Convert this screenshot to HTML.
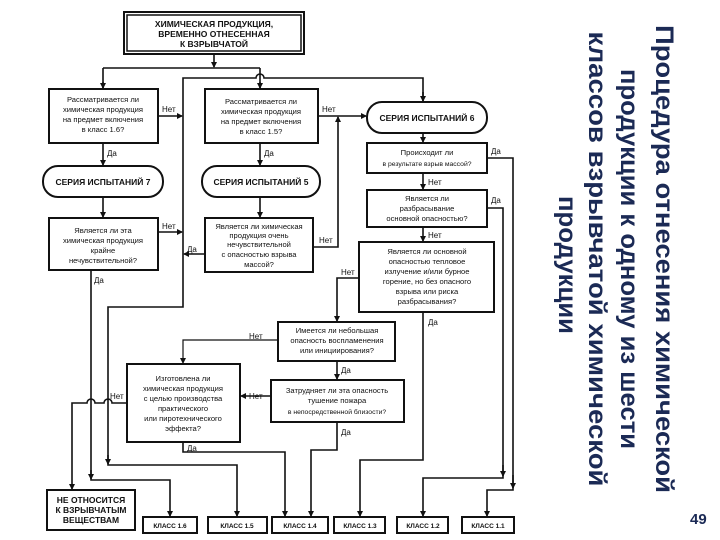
<!DOCTYPE html>
<html><head><meta charset="utf-8"><style>
html,body{margin:0;padding:0;background:#fff}
svg{display:block}
text{font-family:"Liberation Sans",sans-serif;fill:#111}
.t{font-size:7.6px;text-anchor:middle}
.b{font-weight:bold}
.l{font-size:8px}
</style></head><body>
<svg width="720" height="540" viewBox="0 0 720 540" xmlns="http://www.w3.org/2000/svg">
<defs><marker id="a" markerWidth="6" markerHeight="6" refX="5" refY="3" orient="auto" markerUnits="userSpaceOnUse"><path d="M0,0 L6,3 L0,6z" fill="#111"/></marker></defs>
<g fill="none" stroke="#111" stroke-width="2">
<rect x="124" y="12" width="180" height="42" stroke-width="2"/>
<rect x="127" y="15" width="174" height="36" stroke-width="1.5"/>
<rect x="49" y="89" width="109" height="54"/>
<rect x="205" y="89" width="113" height="54"/>
<rect x="43" y="166" width="120" height="31" rx="15"/>
<rect x="202" y="166" width="118" height="31" rx="15"/>
<rect x="49" y="218" width="109" height="52"/>
<rect x="205" y="218" width="108" height="54"/>
<rect x="367" y="102" width="120" height="31" rx="15"/>
<rect x="367" y="143" width="120" height="30"/>
<rect x="367" y="190" width="120" height="37"/>
<rect x="359" y="242" width="135" height="70"/>
<rect x="278" y="322" width="117" height="39"/>
<rect x="271" y="380" width="133" height="42"/>
<rect x="127" y="364" width="113" height="78"/>
<rect x="47" y="490" width="88" height="40"/>
<rect x="143" y="517" width="54" height="16"/>
<rect x="208" y="517" width="59" height="16"/>
<rect x="272" y="517" width="56" height="16"/>
<rect x="334" y="517" width="51" height="16"/>
<rect x="397" y="517" width="51" height="16"/>
<rect x="462" y="517" width="52" height="16"/>
</g>
<g fill="none" stroke="#111" stroke-width="1.6">
<path d="M214 54 V67" marker-end="url(#a)"/>
<path d="M103 68 H260 M103 68 V88 M260 68 V88" />
<path d="M103 82 V88" marker-end="url(#a)"/><path d="M260 82 V88" marker-end="url(#a)"/>
<path d="M183 232 V78 H256 A4 4 0 0 1 264 78 H423 V101" />
<path d="M423 92 V101" marker-end="url(#a)"/>
<path d="M158 116 H182" marker-end="url(#a)"/>
<path d="M158 232 H182" marker-end="url(#a)"/>
<path d="M103 143 V165" marker-end="url(#a)"/>
<path d="M103 197 V217" marker-end="url(#a)"/>
<path d="M260 143 V165" marker-end="url(#a)"/>
<path d="M260 197 V217" marker-end="url(#a)"/>
<path d="M318 116 H366" marker-end="url(#a)"/>
<path d="M313 247 H338 V117" marker-end="url(#a)"/>
<path d="M205 254 H184" marker-end="url(#a)"/>
<path d="M183 232 V307 H108 V465 H237 V516" marker-end="url(#a)"/>
<path d="M91 270 V480 H170 V516" marker-end="url(#a)"/>
<path d="M91 470 V479" marker-end="url(#a)"/>
<path d="M108 455 V464" marker-end="url(#a)"/>
<path d="M423 133 V142" marker-end="url(#a)"/>
<path d="M423 173 V189" marker-end="url(#a)"/>
<path d="M423 227 V241" marker-end="url(#a)"/>
<path d="M487 158 H513 V490 H487 V516" marker-end="url(#a)"/>
<path d="M487 208 H503 V478 H423 V516" marker-end="url(#a)"/>
<path d="M503 465 V476" marker-end="url(#a)"/>
<path d="M513 475 V488" marker-end="url(#a)"/>
<path d="M423 312 V460 H360 V516" marker-end="url(#a)"/>
<path d="M359 278 H337 V321" marker-end="url(#a)"/>
<path d="M278 340 H183 V363" marker-end="url(#a)" stroke-width="1.2"/>
<path d="M337 361 V379" marker-end="url(#a)"/>
<path d="M271 396 H241" marker-end="url(#a)"/>
<path d="M337 422 V450 H311 V516" marker-end="url(#a)"/>
<path d="M183 442 V452 H285 V516" marker-end="url(#a)"/>
<path d="M127 403 H112 A4 4 0 0 0 104 403 H95 A4 4 0 0 0 87 403 H72 V489" marker-end="url(#a)"/>
</g>
<g class="t b" style="font-size:8.5px">
<text x="214" y="27">ХИМИЧЕСКАЯ ПРОДУКЦИЯ,</text>
<text x="214" y="37">ВРЕМЕННО ОТНЕСЕННАЯ</text>
<text x="214" y="47">К ВЗРЫВЧАТОЙ</text>
</g>
<g class="t">
<text x="103" y="102">Рассматривается ли</text><text x="103" y="112">химическая продукция</text><text x="103" y="122">на предмет включения</text><text x="103" y="132">в класс 1.6?</text>
<text x="261" y="104">Рассматривается ли</text><text x="261" y="114">химическая продукция</text><text x="261" y="124">на предмет включения</text><text x="261" y="134">в класс 1.5?</text>
<text x="103" y="233">Является ли эта</text><text x="103" y="243">химическая продукция</text><text x="103" y="253">крайне</text><text x="103" y="263">нечувствительной?</text>
<text x="259" y="229">Является ли химическая</text><text x="259" y="238">продукция очень</text><text x="259" y="247">нечувствительной</text><text x="259" y="257">с опасностью взрыва</text><text x="259" y="267">массой?</text>
<text x="427" y="155">Происходит ли</text><text x="427" y="166" style="font-size:6.8px">в результате взрыв массой?</text>
<text x="427" y="201">Является ли</text><text x="427" y="211">разбрасывание</text><text x="427" y="221">основной опасностью?</text>
<text x="427" y="254">Является ли основной</text><text x="427" y="264">опасностью тепловое</text><text x="427" y="274">излучение и/или бурное</text><text x="427" y="284">горение, но без опасного</text><text x="427" y="294">взрыва или риска</text><text x="427" y="304">разбрасывания?</text>
<text x="337" y="333">Имеется ли небольшая</text><text x="337" y="343">опасность воспламенения</text><text x="337" y="353">или инициирования?</text>
<text x="337" y="393">Затрудняет ли эта опасность</text><text x="337" y="403">тушение пожара</text><text x="337" y="414" style="font-size:6.8px">в непосредственной близости?</text>
<text x="183" y="381">Изготовлена ли</text><text x="183" y="391">химическая продукция</text><text x="183" y="401">с целью производства</text><text x="183" y="411">практического</text><text x="183" y="421">или пиротехнического</text><text x="183" y="431">эффекта?</text>
</g>
<g class="t b" style="font-size:8.5px">
<text x="103" y="185">СЕРИЯ ИСПЫТАНИЙ 7</text>
<text x="261" y="185">СЕРИЯ ИСПЫТАНИЙ 5</text>
<text x="427" y="121">СЕРИЯ ИСПЫТАНИЙ 6</text>
<text x="91" y="503">НЕ ОТНОСИТСЯ</text><text x="91" y="513">К ВЗРЫВЧАТЫМ</text><text x="91" y="523">ВЕЩЕСТВАМ</text>
</g>
<g class="t b" style="font-size:6.5px">
<text x="170" y="528">КЛАСС 1.6</text><text x="237" y="528">КЛАСС 1.5</text><text x="300" y="528">КЛАСС 1.4</text>
<text x="360" y="528">КЛАСС 1.3</text><text x="423" y="528">КЛАСС 1.2</text><text x="488" y="528">КЛАСС 1.1</text>
</g>
<g class="l">
<text x="162" y="112">Нет</text><text x="107" y="156">Да</text><text x="162" y="229">Нет</text><text x="94" y="283">Да</text>
<text x="322" y="112">Нет</text><text x="264" y="156">Да</text><text x="319" y="243">Нет</text><text x="187" y="252">Да</text>
<text x="491" y="154">Да</text><text x="428" y="185">Нет</text><text x="491" y="203">Да</text><text x="428" y="238">Нет</text>
<text x="341" y="275">Нет</text><text x="428" y="325">Да</text><text x="249" y="339">Нет</text><text x="341" y="373">Да</text>
<text x="249" y="399">Нет</text><text x="341" y="435">Да</text><text x="110" y="399">Нет</text><text x="187" y="451">Да</text>
</g>
<g style="font-family:'Liberation Sans',sans-serif;font-weight:bold;font-size:25px;fill:#1b2a55">
<text transform="translate(656,259) rotate(90)" text-anchor="middle" textLength="468" lengthAdjust="spacingAndGlyphs" style="fill:#1b2a55">Процедура отнесения химической</text>
<text transform="translate(621,259) rotate(90)" text-anchor="middle" textLength="380" lengthAdjust="spacingAndGlyphs" style="fill:#1b2a55">продукции к одному из шести</text>
<text transform="translate(589,259) rotate(90)" text-anchor="middle" textLength="455" lengthAdjust="spacingAndGlyphs" style="fill:#1b2a55">классов взрывчатой химической</text>
<text transform="translate(559,265) rotate(90)" text-anchor="middle" textLength="138" lengthAdjust="spacingAndGlyphs" style="fill:#1b2a55">продукции</text>
</g>
<text x="690" y="524" style="font-size:15px;font-weight:bold;fill:#1b2a55">49</text>
</svg>
</body></html>
